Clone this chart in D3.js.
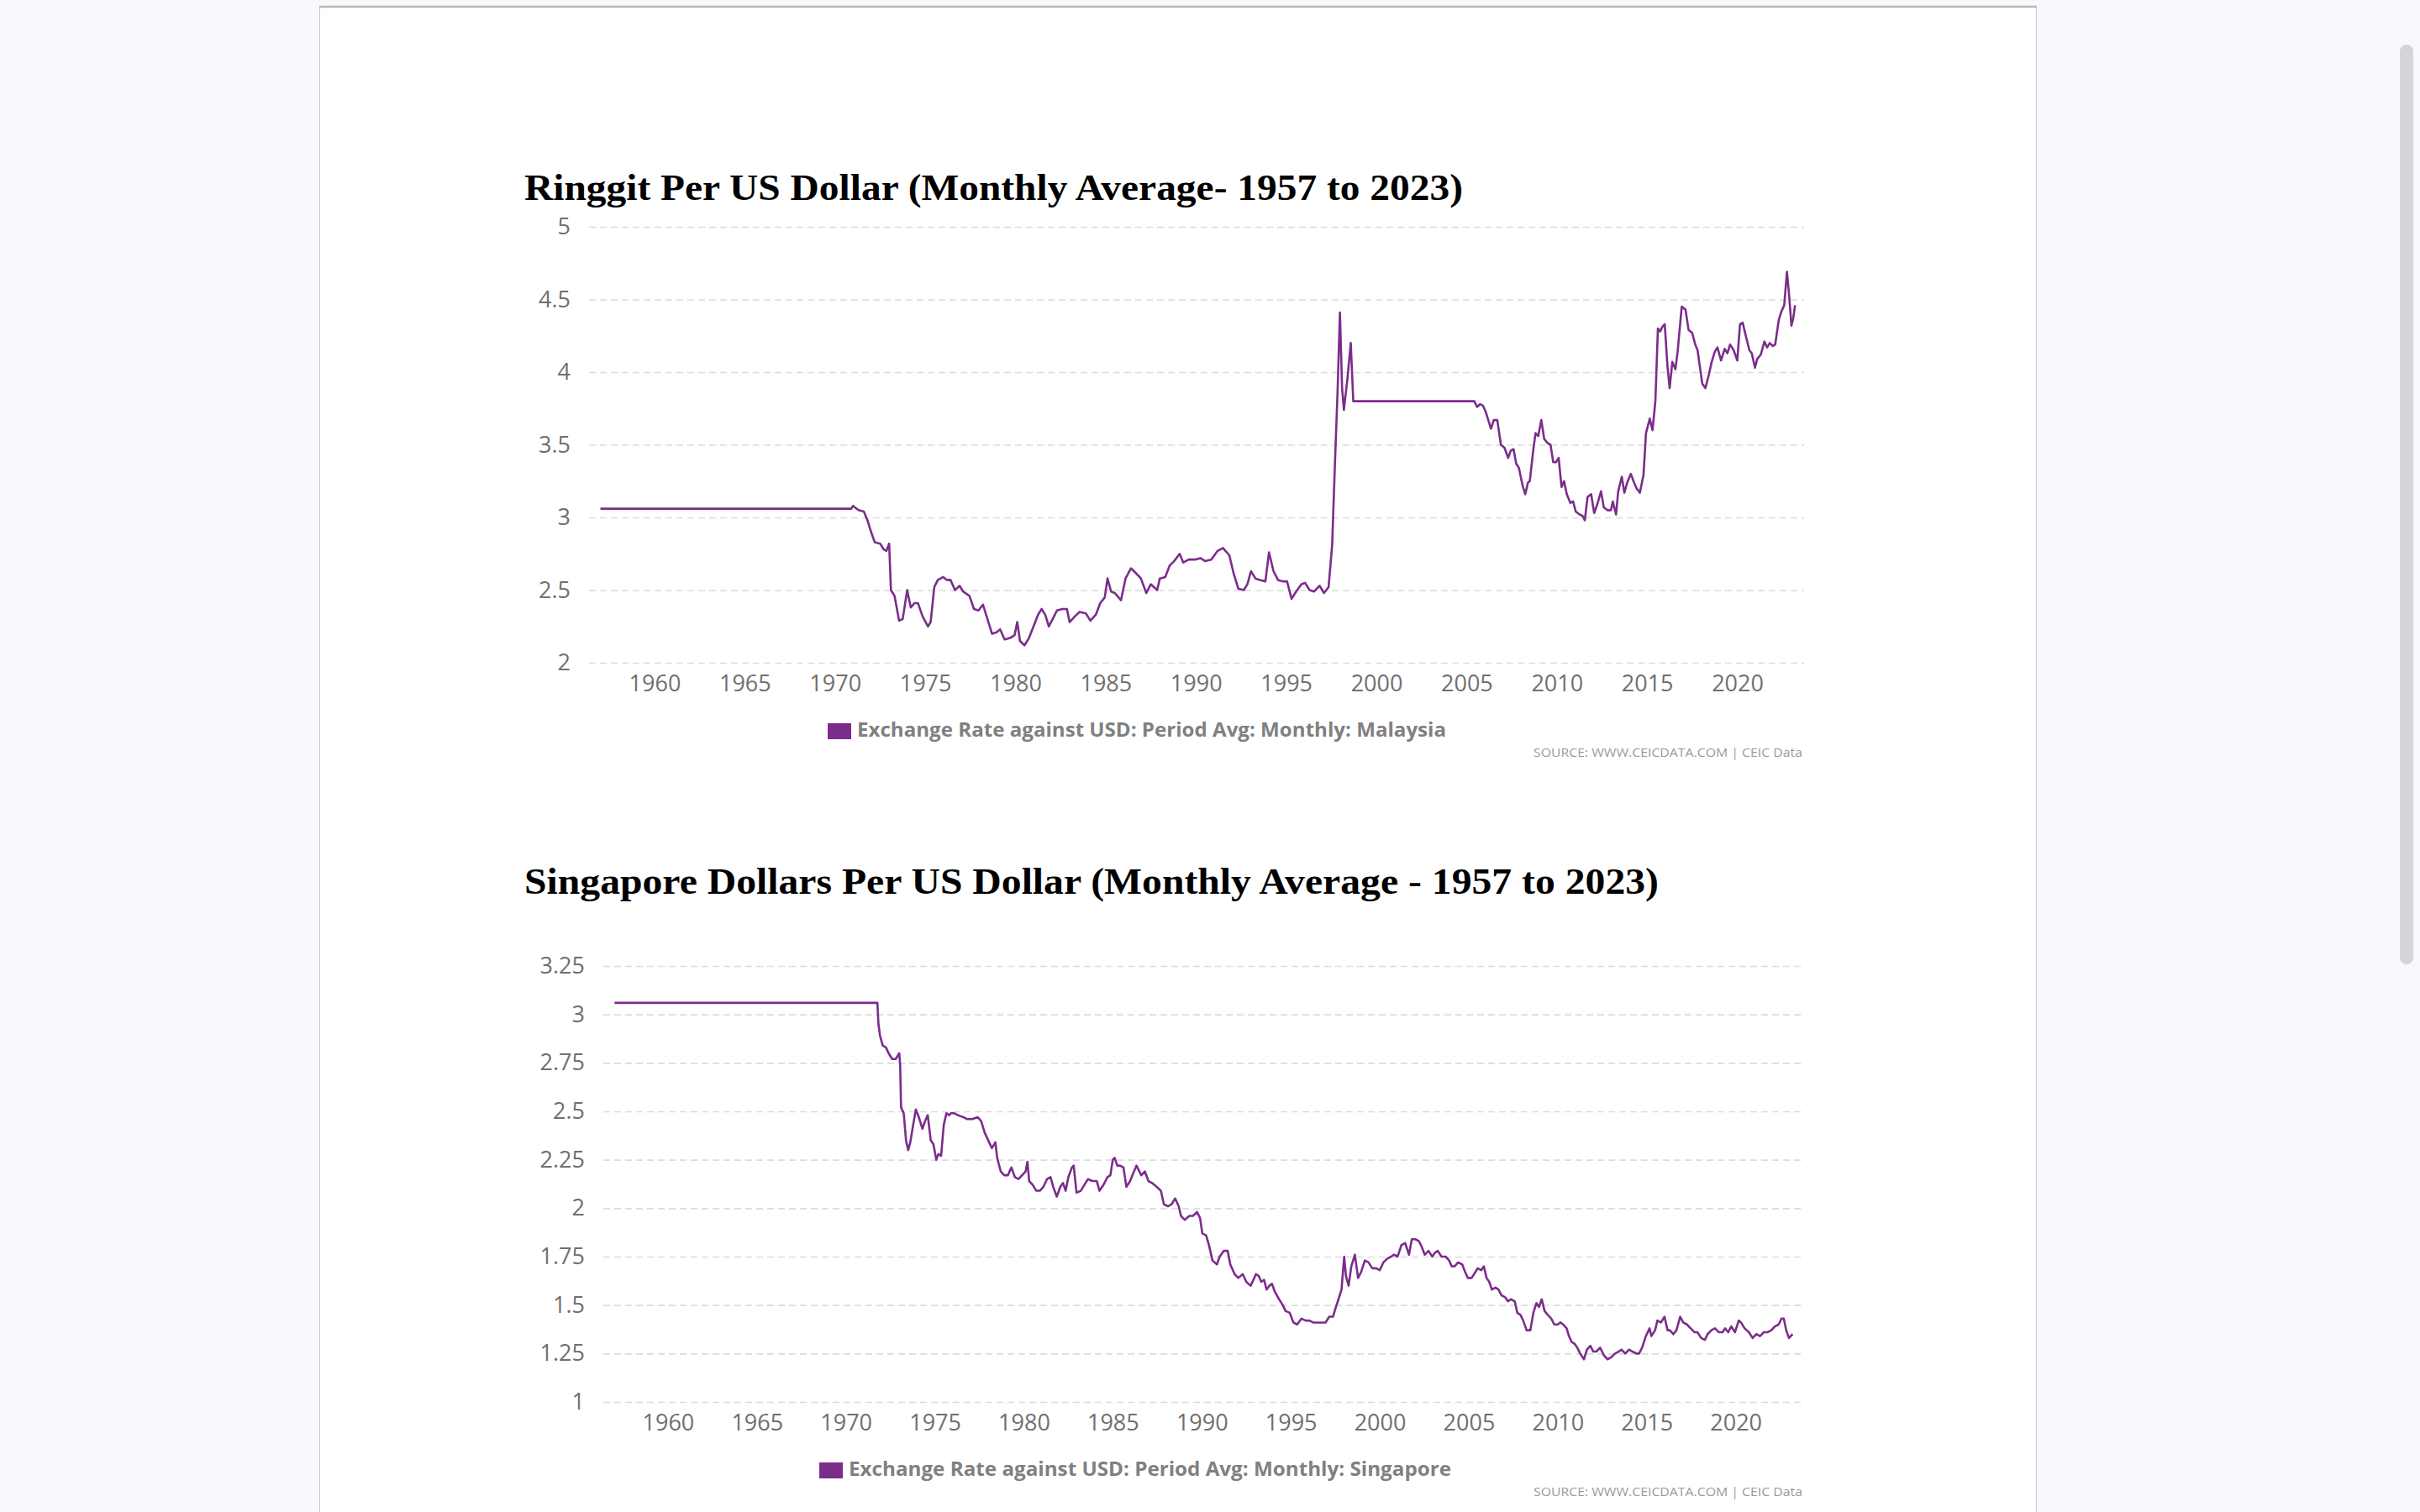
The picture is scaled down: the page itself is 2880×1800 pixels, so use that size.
<!DOCTYPE html>
<html>
<head>
<meta charset="utf-8">
<script src="https://cdn.jsdelivr.net/npm/d3@7"></script>
<style>
  body { margin: 0; background: #f8f9fd; overflow: hidden; }
</style>
</head>
<body>
<svg id="page" width="2880" height="1800"></svg>
<script>
// Year ticks shared by both charts.
const yearTicks = [1960, 1965, 1970, 1975, 1980, 1985, 1990, 1995, 2000, 2005, 2010, 2015, 2020];

// Ringgit per USD, [year, rate].
const malaysiaTicks = [2, 2.5, 3, 3.5, 4, 4.5, 5];
const malaysiaTitle = 'Ringgit Per US Dollar (Monthly Average- 1957 to 2023)';
const malaysiaLegend = 'Exchange Rate against USD: Period Avg: Monthly: Malaysia';
const malaysiaSeries = [
  [1957.0, 3.06], [1970.9, 3.06], [1971.0, 3.08], [1971.3, 3.05], [1971.6, 3.04], [1971.8, 2.98],
  [1972.0, 2.90], [1972.2, 2.83], [1972.5, 2.82], [1972.7, 2.78], [1972.85, 2.77], [1973.0, 2.82],
  [1973.1, 2.50], [1973.3, 2.46], [1973.55, 2.29], [1973.75, 2.30], [1974.0, 2.50], [1974.2, 2.38],
  [1974.4, 2.41], [1974.6, 2.41], [1974.85, 2.32], [1975.15, 2.25], [1975.3, 2.28], [1975.5, 2.52],
  [1975.7, 2.57], [1976.0, 2.59], [1976.2, 2.57], [1976.4, 2.57], [1976.65, 2.50], [1976.9, 2.53],
  [1977.1, 2.49], [1977.45, 2.46], [1977.7, 2.37], [1977.95, 2.36], [1978.2, 2.40], [1978.45, 2.30],
  [1978.7, 2.20], [1978.95, 2.21], [1979.15, 2.23], [1979.4, 2.16], [1979.7, 2.17], [1979.95, 2.19],
  [1980.1, 2.28], [1980.25, 2.15], [1980.5, 2.12], [1980.75, 2.17], [1981.0, 2.25], [1981.25, 2.33],
  [1981.45, 2.37], [1981.65, 2.33], [1981.85, 2.25], [1982.1, 2.31], [1982.3, 2.36], [1982.6, 2.37],
  [1982.85, 2.37], [1983.0, 2.28], [1983.3, 2.32], [1983.55, 2.35], [1983.9, 2.34], [1984.15, 2.29],
  [1984.45, 2.33], [1984.7, 2.41], [1984.95, 2.45], [1985.1, 2.58], [1985.3, 2.49], [1985.5, 2.48],
  [1985.85, 2.43], [1986.1, 2.58], [1986.4, 2.65], [1986.65, 2.62], [1986.95, 2.58], [1987.25, 2.48],
  [1987.5, 2.54], [1987.85, 2.50], [1988.0, 2.58], [1988.3, 2.59], [1988.55, 2.67], [1988.8, 2.70],
  [1989.1, 2.75], [1989.3, 2.69], [1989.6, 2.71], [1989.95, 2.71], [1990.25, 2.72], [1990.5, 2.70],
  [1990.85, 2.71], [1991.2, 2.77], [1991.5, 2.79], [1991.85, 2.74], [1992.1, 2.61], [1992.35, 2.51],
  [1992.65, 2.50], [1992.85, 2.54], [1993.05, 2.63], [1993.3, 2.58], [1993.55, 2.57], [1993.85, 2.56],
  [1994.05, 2.76], [1994.3, 2.63], [1994.55, 2.57], [1994.8, 2.56], [1995.05, 2.56], [1995.3, 2.44],
  [1995.55, 2.49], [1995.85, 2.54], [1996.05, 2.55], [1996.3, 2.50], [1996.55, 2.49], [1996.85, 2.53],
  [1997.1, 2.48], [1997.35, 2.52], [1997.55, 2.81], [1997.7, 3.36], [1997.85, 3.87], [1997.98, 4.41],
  [1998.1, 3.89], [1998.2, 3.74], [1998.4, 3.96], [1998.58, 4.20], [1998.72, 3.80], [2005.43, 3.80],
  [2005.58, 3.76], [2005.75, 3.78], [2005.9, 3.77], [2006.05, 3.73], [2006.2, 3.67], [2006.35, 3.61],
  [2006.5, 3.67], [2006.7, 3.67], [2006.9, 3.50], [2007.1, 3.48], [2007.3, 3.41], [2007.45, 3.46],
  [2007.6, 3.47], [2007.75, 3.37], [2007.9, 3.34], [2008.1, 3.22], [2008.25, 3.16], [2008.4, 3.24],
  [2008.5, 3.25], [2008.7, 3.47], [2008.82, 3.58], [2008.97, 3.56], [2009.14, 3.67], [2009.3, 3.54],
  [2009.5, 3.51], [2009.65, 3.50], [2009.8, 3.38], [2009.95, 3.38], [2010.1, 3.41], [2010.26, 3.21],
  [2010.4, 3.25], [2010.55, 3.16], [2010.75, 3.10], [2010.9, 3.11], [2011.05, 3.04], [2011.26, 3.02],
  [2011.43, 3.01], [2011.55, 2.98], [2011.7, 3.14], [2011.9, 3.16], [2012.07, 3.03], [2012.24, 3.09],
  [2012.45, 3.18], [2012.6, 3.07], [2012.8, 3.05], [2013.0, 3.05], [2013.1, 3.11], [2013.28, 3.02],
  [2013.4, 3.18], [2013.6, 3.28], [2013.74, 3.17], [2013.9, 3.24], [2014.1, 3.30], [2014.28, 3.24],
  [2014.42, 3.20], [2014.6, 3.17], [2014.8, 3.29], [2014.94, 3.58], [2015.15, 3.68], [2015.3, 3.60],
  [2015.46, 3.80], [2015.6, 4.30], [2015.72, 4.28], [2015.84, 4.31], [2015.98, 4.33], [2016.13, 4.04],
  [2016.25, 3.89], [2016.4, 4.07], [2016.57, 4.02], [2016.7, 4.15], [2016.92, 4.45], [2017.13, 4.43],
  [2017.3, 4.29], [2017.5, 4.27], [2017.67, 4.19], [2017.8, 4.15], [2017.9, 4.06], [2018.06, 3.92],
  [2018.23, 3.89], [2018.4, 3.97], [2018.58, 4.07], [2018.75, 4.14], [2018.9, 4.17], [2019.1, 4.08],
  [2019.3, 4.16], [2019.45, 4.13], [2019.6, 4.19], [2019.8, 4.15], [2020.0, 4.08], [2020.15, 4.33],
  [2020.3, 4.34], [2020.45, 4.26], [2020.67, 4.15], [2020.8, 4.13], [2020.98, 4.03], [2021.1, 4.09],
  [2021.3, 4.12], [2021.5, 4.21], [2021.65, 4.17], [2021.8, 4.20], [2021.96, 4.18], [2022.1, 4.19],
  [2022.3, 4.36], [2022.45, 4.42], [2022.6, 4.46], [2022.75, 4.69], [2022.87, 4.53], [2023.0, 4.32],
  [2023.1, 4.37], [2023.2, 4.46]
];

// Singapore dollars per USD.
const singaporeTicks = [1, 1.25, 1.5, 1.75, 2, 2.25, 2.5, 2.75, 3, 3.25];
const singaporeTitle = 'Singapore Dollars Per US Dollar (Monthly Average - 1957 to 2023)';
const singaporeLegend = 'Exchange Rate against USD: Period Avg: Monthly: Singapore';
const singaporeSeries = [
  [1957.0, 3.06], [1971.77, 3.06], [1971.83, 2.95], [1971.92, 2.89], [1972.07, 2.84], [1972.25, 2.83],
  [1972.4, 2.80], [1972.6, 2.77], [1972.8, 2.77], [1973.0, 2.80], [1973.05, 2.74], [1973.1, 2.52],
  [1973.25, 2.49], [1973.38, 2.35], [1973.5, 2.30], [1973.62, 2.34], [1973.78, 2.43], [1973.93, 2.51],
  [1974.1, 2.47], [1974.3, 2.41], [1974.45, 2.45], [1974.6, 2.48], [1974.77, 2.35], [1974.92, 2.33],
  [1975.08, 2.25], [1975.2, 2.28], [1975.35, 2.27], [1975.5, 2.43], [1975.65, 2.49], [1975.8, 2.48],
  [1975.9, 2.49], [1976.1, 2.49], [1976.3, 2.48], [1976.6, 2.47], [1976.8, 2.46], [1977.1, 2.46],
  [1977.4, 2.47], [1977.6, 2.45], [1977.8, 2.39], [1978.0, 2.35], [1978.2, 2.31], [1978.4, 2.34],
  [1978.5, 2.26], [1978.7, 2.19], [1978.9, 2.17], [1979.1, 2.17], [1979.3, 2.21], [1979.5, 2.16],
  [1979.7, 2.15], [1979.9, 2.17], [1980.1, 2.19], [1980.2, 2.24], [1980.3, 2.14], [1980.5, 2.12],
  [1980.7, 2.09], [1980.9, 2.09], [1981.1, 2.11], [1981.3, 2.15], [1981.5, 2.16], [1981.65, 2.11],
  [1981.85, 2.06], [1982.05, 2.11], [1982.2, 2.13], [1982.35, 2.09], [1982.5, 2.16], [1982.7, 2.21],
  [1982.8, 2.22], [1982.96, 2.08], [1983.2, 2.09], [1983.4, 2.12], [1983.6, 2.15], [1983.86, 2.14],
  [1984.1, 2.14], [1984.25, 2.09], [1984.47, 2.12], [1984.7, 2.16], [1984.86, 2.17], [1985.0, 2.25],
  [1985.1, 2.26], [1985.25, 2.22], [1985.4, 2.22], [1985.6, 2.21], [1985.76, 2.11], [1985.97, 2.14],
  [1986.1, 2.17], [1986.33, 2.22], [1986.6, 2.17], [1986.8, 2.19], [1987.0, 2.14], [1987.2, 2.13],
  [1987.47, 2.11], [1987.7, 2.09], [1987.87, 2.02], [1988.1, 2.01], [1988.3, 2.02], [1988.5, 2.05],
  [1988.7, 2.01], [1988.83, 1.96], [1989.04, 1.94], [1989.3, 1.96], [1989.5, 1.96], [1989.73, 1.98],
  [1989.9, 1.95], [1990.03, 1.87], [1990.24, 1.86], [1990.4, 1.81], [1990.6, 1.73], [1990.85, 1.71],
  [1991.0, 1.75], [1991.24, 1.78], [1991.45, 1.78], [1991.6, 1.71], [1991.84, 1.66], [1992.05, 1.64],
  [1992.3, 1.66], [1992.5, 1.62], [1992.74, 1.60], [1992.9, 1.63], [1993.04, 1.66], [1993.2, 1.65],
  [1993.34, 1.62], [1993.5, 1.63], [1993.64, 1.58], [1993.8, 1.60], [1993.94, 1.61], [1994.1, 1.57],
  [1994.34, 1.53], [1994.55, 1.50], [1994.7, 1.47], [1994.94, 1.46], [1995.15, 1.41], [1995.36, 1.40],
  [1995.6, 1.43], [1995.84, 1.42], [1996.05, 1.42], [1996.26, 1.41], [1996.5, 1.41], [1996.74, 1.41],
  [1996.95, 1.41], [1997.16, 1.44], [1997.37, 1.44], [1997.5, 1.48], [1997.68, 1.53], [1997.85, 1.58],
  [1998.0, 1.75], [1998.1, 1.65], [1998.25, 1.60], [1998.4, 1.70], [1998.6, 1.76], [1998.78, 1.64],
  [1998.95, 1.67], [1999.16, 1.73], [1999.37, 1.72], [1999.58, 1.69], [1999.8, 1.69], [2000.0, 1.68],
  [2000.2, 1.72], [2000.42, 1.74], [2000.63, 1.75], [2000.8, 1.76], [2001.0, 1.75], [2001.22, 1.81],
  [2001.43, 1.82], [2001.64, 1.76], [2001.8, 1.84], [2002.0, 1.84], [2002.2, 1.83], [2002.36, 1.80],
  [2002.53, 1.76], [2002.74, 1.78], [2002.95, 1.75], [2003.1, 1.77], [2003.26, 1.78], [2003.47, 1.75],
  [2003.7, 1.75], [2003.9, 1.73], [2004.04, 1.70], [2004.2, 1.70], [2004.4, 1.72], [2004.63, 1.71],
  [2004.8, 1.67], [2004.95, 1.64], [2005.16, 1.64], [2005.37, 1.67], [2005.5, 1.69], [2005.7, 1.68],
  [2005.85, 1.70], [2006.0, 1.64], [2006.15, 1.62], [2006.3, 1.58], [2006.5, 1.59], [2006.67, 1.58],
  [2006.84, 1.55], [2007.05, 1.54], [2007.2, 1.52], [2007.37, 1.53], [2007.58, 1.52], [2007.73, 1.46],
  [2007.9, 1.45], [2008.06, 1.42], [2008.25, 1.37], [2008.46, 1.37], [2008.63, 1.46], [2008.8, 1.51],
  [2008.95, 1.49], [2009.1, 1.53], [2009.26, 1.47], [2009.43, 1.45], [2009.64, 1.43], [2009.8, 1.40],
  [2010.0, 1.40], [2010.15, 1.41], [2010.3, 1.40], [2010.5, 1.38], [2010.63, 1.34], [2010.78, 1.31],
  [2010.95, 1.30], [2011.1, 1.28], [2011.26, 1.25], [2011.47, 1.22], [2011.64, 1.27], [2011.83, 1.29],
  [2012.0, 1.26], [2012.17, 1.26], [2012.38, 1.28], [2012.6, 1.24], [2012.8, 1.22], [2013.0, 1.23],
  [2013.22, 1.25], [2013.43, 1.26], [2013.58, 1.27], [2013.8, 1.25], [2014.0, 1.27], [2014.2, 1.26],
  [2014.42, 1.25], [2014.57, 1.25], [2014.74, 1.28], [2014.95, 1.34], [2015.16, 1.38], [2015.26, 1.34],
  [2015.47, 1.37], [2015.6, 1.42], [2015.8, 1.41], [2016.0, 1.44], [2016.17, 1.37], [2016.3, 1.37],
  [2016.5, 1.35], [2016.67, 1.37], [2016.88, 1.44], [2017.05, 1.41], [2017.26, 1.40], [2017.47, 1.38],
  [2017.68, 1.36], [2017.85, 1.36], [2018.06, 1.33], [2018.27, 1.32], [2018.42, 1.35], [2018.63, 1.37],
  [2018.84, 1.38], [2019.05, 1.36], [2019.26, 1.36], [2019.4, 1.38], [2019.58, 1.36], [2019.75, 1.39],
  [2019.96, 1.36], [2020.17, 1.42], [2020.3, 1.41], [2020.5, 1.38], [2020.74, 1.36], [2020.95, 1.33],
  [2021.16, 1.35], [2021.37, 1.34], [2021.58, 1.36], [2021.8, 1.36], [2022.0, 1.37], [2022.2, 1.39],
  [2022.42, 1.40], [2022.57, 1.43], [2022.7, 1.43], [2022.84, 1.37], [2022.99, 1.33], [2023.2, 1.35]
];

const sourceText = 'SOURCE: WWW.CEICDATA.COM | CEIC Data';

// Styles
const lineColour = '#7b2d8b';
const tickFont = '"Open Sans", "Noto Sans", sans-serif';
const yearDomain = [1956.37, 2023.7];

const svg = d3.select('#page');

// Page card and scrollbar.
svg.append('rect')
    .attr('x', 380.5).attr('y', 7.5)
    .attr('width', 2043).attr('height', 1820)
    .attr('fill', '#fff')
    .attr('stroke', '#c6c6ce');
svg.append('line')
    .attr('x1', 380).attr('x2', 2424)
    .attr('y1', 8).attr('y2', 8)
    .attr('stroke', '#b9b9b9').attr('stroke-width', 2.5);
svg.append('rect')
    .attr('x', 2856).attr('y', 53)
    .attr('width', 16).attr('height', 1095)
    .attr('rx', 8)
    .attr('fill', '#d4d4d9');

// Draw one chart panel.
function drawChart(cfg) {
    const x = d3.scaleLinear().domain(yearDomain).range(cfg.xRange);
    const y = d3.scaleLinear().domain(d3.extent(cfg.ticks)).range(cfg.yRange);

    const g = svg.append('g');

    // Title
    g.append('text')
        .attr('x', 624).attr('y', cfg.titleY)
        .attr('font-family', '"Liberation Serif", "Times New Roman", serif')
        .attr('font-weight', 'bold')
        .attr('font-size', 45)
        .attr('fill', '#000')
        .attr('textLength', cfg.titleWidth)
        .attr('lengthAdjust', 'spacingAndGlyphs')
        .text(cfg.title);

    // Y axis with dashed grid lines.
    const yAxis = g.append('g')
        .attr('transform', `translate(${cfg.xRange[0]},0)`)
        .call(d3.axisLeft(y)
            .tickValues(cfg.ticks)
            .tickFormat(d => d)
            .tickSize(-(cfg.xRange[1] - cfg.xRange[0]))
            .tickPadding(22));
    yAxis.select('.domain').remove();
    yAxis.selectAll('line')
        .attr('stroke', '#dcdcdc')
        .attr('stroke-width', 1.6)
        .attr('stroke-dasharray', '8,5');
    yAxis.selectAll('text')
        .attr('font-family', tickFont)
        .attr('font-size', 27)
        .attr('fill', '#6f6f6f');

    // X axis, labels only.
    const xAxis = g.append('g')
        .attr('transform', `translate(0,${cfg.yRange[0]})`)
        .call(d3.axisBottom(x)
            .tickValues(yearTicks)
            .tickFormat(d => d)
            .tickSize(0)
            .tickPadding(15));
    xAxis.select('.domain').remove();
    xAxis.selectAll('text')
        .attr('font-family', tickFont)
        .attr('font-size', 27)
        .attr('fill', '#6f6f6f');

    // Series line.
    const line = d3.line()
        .x(d => x(d[0]))
        .y(d => y(d[1]));
    g.append('path')
        .datum(cfg.series)
        .attr('fill', 'none')
        .attr('stroke', lineColour)
        .attr('stroke-width', 2.6)
        .attr('stroke-linejoin', 'round')
        .attr('d', line);

    // Legend.
    const legend = g.append('g')
        .attr('transform', `translate(${cfg.legendX},${cfg.yRange[0] + 72})`);
    legend.append('rect')
        .attr('x', 0).attr('y', 0)
        .attr('width', 28).attr('height', 19)
        .attr('fill', lineColour);
    legend.append('text')
        .attr('x', 35).attr('y', 16)
        .attr('font-family', tickFont)
        .attr('font-weight', 'bold')
        .attr('font-size', 24)
        .attr('fill', '#808080')
        .attr('textLength', cfg.legendWidth)
        .attr('lengthAdjust', 'spacingAndGlyphs')
        .text(cfg.legend);

    // Source note.
    g.append('text')
        .attr('x', 2145).attr('y', cfg.yRange[0] + 112)
        .attr('text-anchor', 'end')
        .attr('font-family', tickFont)
        .attr('font-size', 15)
        .attr('fill', '#9a9a9a')
        .attr('textLength', 320)
        .attr('lengthAdjust', 'spacingAndGlyphs')
        .text(sourceText);
}

drawChart({
    title: malaysiaTitle, titleY: 238, titleWidth: 1117,
    series: malaysiaSeries, ticks: malaysiaTicks,
    xRange: [701, 2147], yRange: [789, 270],
    legend: malaysiaLegend, legendX: 985, legendWidth: 701
});

drawChart({
    title: singaporeTitle, titleY: 1064, titleWidth: 1350,
    series: singaporeSeries, ticks: singaporeTicks,
    xRange: [718, 2144], yRange: [1669, 1150],
    legend: singaporeLegend, legendX: 975, legendWidth: 717
});
</script>
</body>
</html>
